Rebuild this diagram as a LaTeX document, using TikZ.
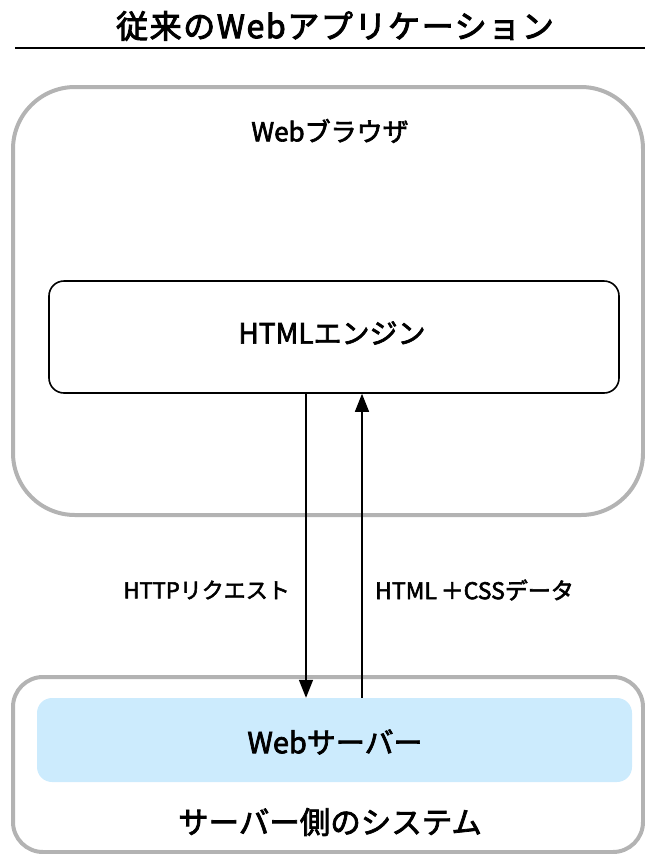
\documentclass[tikz,border=0pt]{standalone}
\usepackage{fontspec}
\setmainfont{Noto Sans CJK JP}
\newfontfamily\medf{Noto Sans CJK JP}[FakeBold=2.5]
\newfontfamily\titlef{Noto Sans CJK JP}[FakeBold=3, LetterSpace=5]
\usetikzlibrary{arrows.meta}
\definecolor{boxgray}{HTML}{B3B3B3}
\definecolor{srvblue}{HTML}{CCEBFD}
\tikzset{
  grayframe/.style={draw=boxgray, line width=4pt},
  enginebox/.style={draw=black, line width=1.6pt, rounded corners=15pt},
  flow/.style={line width=1.6pt, -{Triangle[length=18pt,width=14pt]}},
  txt/.style={inner sep=0pt, anchor=center}
}
\begin{document}
\begin{tikzpicture}[x=1pt, y=-1pt]
\useasboundingbox (0,0) rectangle (645,854);
% title
\node[txt, font=\titlef\fontsize{32}{32}\selectfont] (title) at (335,26) {従来のWebアプリケーション};
\coordinate (rl) at (15,48);
\coordinate (rr) at (645,48);
\draw[line width=2.2pt] (rl) -- (rr);
% browser frame
\draw[grayframe, rounded corners=62pt] (13,87) rectangle (643,515);
\node[txt, font=\medf\fontsize{26}{26}\selectfont] (browser) at (330,131) {Webブラウザ};
% HTML engine
\node[enginebox, minimum width=570pt, minimum height=112pt, inner sep=0pt] (engine) at (334,337) {};
\node[txt, font=\medf\fontsize{28}{28}\selectfont] (enginelbl) at (332,333) {HTMLエンジン};
% server system
\draw[grayframe, rounded corners=30pt] (13,677) rectangle (643,852);
\node[fill=srvblue, rounded corners=15pt, minimum width=595pt, minimum height=84pt, inner sep=0pt] (server) at (334.5,740) {};
\node[txt, font=\medf\fontsize{29}{29}\selectfont] (serverlbl) at (335,742) {Webサーバー};
\node[txt, font=\medf\fontsize{30.5}{30.5}\selectfont] (system) at (330,822) {サーバー側のシステム};
% arrows
\coordinate (dtop) at (engine.south -| 306,0);
\coordinate (dbot) at (server.north -| 306,0);
\coordinate (utop) at (engine.south -| 362,0);
\coordinate (ubot) at (server.north -| 362,0);
\draw[flow] (dtop) -- (dbot);
\draw[flow] (ubot) -- (utop);
\node[txt, anchor=east, font=\medf\fontsize{22}{22}\selectfont] (req) at (290,590) {HTTPリクエスト};
\node[txt, anchor=west, font=\medf\fontsize{23}{23}\selectfont] (resp) at (375,590) {HTML\,＋CSSデータ};
\end{tikzpicture}
\end{document}
